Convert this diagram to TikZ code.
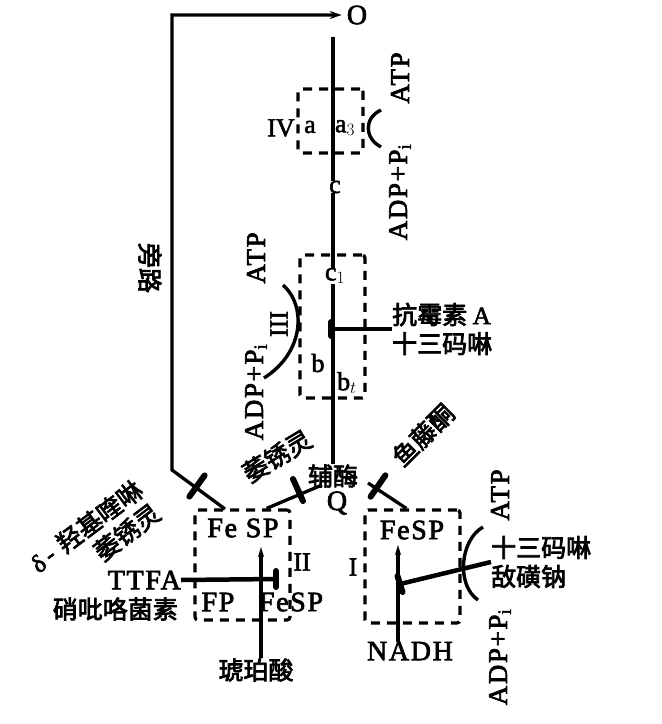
\documentclass[tikz,border=0pt]{standalone}
\usepackage{fontspec}
\setmainfont{Liberation Serif}[FakeBold=2]
\newfontfamily\lat{Liberation Serif}[LetterSpace=6, FakeBold=2.5]
\newfontfamily\cjk{Noto Sans CJK SC}[FakeBold=3]
\usetikzlibrary{arrows.meta, calc}

\tikzset{
  cbox/.style={draw, line width=3.2pt, dash pattern=on 9pt off 7pt, rounded corners=3pt, inner sep=0pt},
  wire/.style={line width=3.3pt},
  stem/.style={line width=4.5pt},
  block/.style={line width=6pt, line cap=round},
  pump/.style={line width=3.4pt},
  txt/.style={font=\lat\fontsize{28}{30}\selectfont, inner sep=0pt},
  sm/.style={font=\fontsize{26}{28}\selectfont, inner sep=0pt},
  cn/.style={font=\cjk\fontsize{25}{29}\selectfont, inner sep=0pt},
  phos/.style={font=\lat\fontsize{27}{29}\selectfont, rotate=90, inner sep=0pt}
}

\begin{document}
\begin{tikzpicture}[x=1pt, y=-1pt]
  \useasboundingbox (0,0) rectangle (662,724);

  % complexes
  \node[cbox, minimum width=65, minimum height=64] (box4) at (330.5,121) {};
  \node[cbox, minimum width=65, minimum height=143] (box3) at (332.5,326.5) {};
  \node[cbox, minimum width=95, minimum height=110] (box2) at (242.5,565) {};
  \node[cbox, minimum width=95, minimum height=113] (box1) at (412.5,566.5) {};

  % carriers
  \node[txt] (O) at (357,15) {O};
  \node[sm] (n4) at (281,128) {IV};
  \node[sm] (a) at (310,127) {a};
  \node[sm] (a3) at (345,128) {a$_3$};
  \node[sm] (c) at (335,187) {c};
  \node[sm] (c1) at (335,276) {c$_1$};
  \node[sm] (b) at (318,363) {b};
  \node[sm] (bt) at (347,383) {b$_t$};
  \node[cn] (fm) at (333,476) {辅酶};
  \node[txt] (Q) at (337,503) {Q};

  \node[txt] (fe1) at (412,530) {FeSP};
  \node[sm] (n1) at (353,567) {I};
  \node[txt] (nadh) at (410,651) {NADH};

  \node[txt] (fe2) at (243,528) {Fe SP};
  \node[sm] (n2) at (302,562) {II};
  \node[txt] (fp) at (218,602) {FP};
  \node[txt] (fe2b) at (291,602) {FeSP};
  \node[cn] (sa) at (256,670) {琥珀酸};

  % inhibitors
  \node[txt, anchor=east] (ttfa) at (181,580) {TTFA};
  \node[cn, anchor=east] (xbl) at (178,609) {硝吡咯菌素};
  \node[cn, anchor=west, align=left] (kms) at (392,329) {抗霉素 {\lat A}\\十三码啉};
  \node[cn, anchor=west, align=left] (ssm) at (491,562) {十三码啉\\敌磺钠};
  \node[cn, align=right, rotate=37] (hq) at (95,538) {{\lat δ}\,-\,\,羟基喹啉\\萎锈灵};
  \node[cn, rotate=31] (wxl) at (277,456) {萎锈灵};
  \node[cn, rotate=45] (ytt) at (423,435) {鱼藤酮};
  \node[cn, rotate=-90] (pl) at (150,268) {旁路};

  % phosphorylation sites
  \node[phos] (atp4) at (400,78) {ATP};
  \node[phos] (adp4) at (400,192) {ADP+P$_\mathrm{i}$};
  \node[sm, rotate=90] (n3) at (279,324) {III};
  \node[phos] (atp3) at (256,258) {ATP};
  \node[phos] (adp3) at (256,392) {ADP+P$_\mathrm{i}$};
  \node[phos] (atp1) at (500,495) {ATP};
  \node[phos] (adp1) at (500,657) {ADP+P$_\mathrm{i}$};

  \draw[pump] (381,110) .. controls (364,118) and (364,138) .. (381,147);
  \draw[pump] (283,285) .. controls (306,305) and (305,352) .. (264,378);
  \draw[pump] (483,527) .. controls (460,540) and (456,585) .. (478,600);

  % electron path
  \coordinate (top) at (333,37);
  \coordinate (bp0) at (225,509);
  \coordinate (bp1) at (172,470);
  \coordinate (q2) at (322,485);
  \coordinate (q1) at (368,483);
  \coordinate (e1) at (398,545);
  \coordinate (e2) at (261,547);

  \draw[wire] (fm.north) -- (fm.north |- c1.south);
  \draw[wire] (top |- c1.north) -- (top |- c.south);
  \draw[wire] (top |- c.north) -- (top);
  \draw[wire, -{Stealth[length=12pt, width=8pt]}, shorten >=5pt] (bp0) -- (bp1) |- (O.west);
  \draw[wire] (box2.north east) ++(-25,0) coordinate (s2) -- (q2);
  \draw[wire] (box1.north west) ++(43,0) coordinate (s1) -- (q1);
  \draw[wire, -{Stealth[length=10pt, width=6pt]}] (e1 |- nadh.north) -- (e1);
  \draw[wire, -{Stealth[length=10pt, width=6pt]}] (e2 |- sa.north) -- (e2);

  % blocking marks
  \coordinate (kT) at (276,579);
  \coordinate (kA) at (331,329);
  \coordinate (kS) at (400,584);
  \draw[stem] (ttfa.east) -- (kT);
  \draw[block] ($(kT)+(0,-8)$) -- ($(kT)+(0,8)$);
  \draw[stem] (kms.west) -- (kA);
  \draw[block] ($(kA)+(0,-7)$) -- ($(kA)+(0,7)$);
  \draw[stem] (ssm.west) -- (kS);
  \draw[block] ($(kS)+(-2.5,-8)$) -- ($(kS)+(2.5,8)$);
  \draw[block] (189.4,496.6) -- (204.6,475.4);
  \draw[block] (293,479) -- (303,501);
  \draw[block] (370.6,496.7) -- (385.4,475.3);
\end{tikzpicture}
\end{document}
